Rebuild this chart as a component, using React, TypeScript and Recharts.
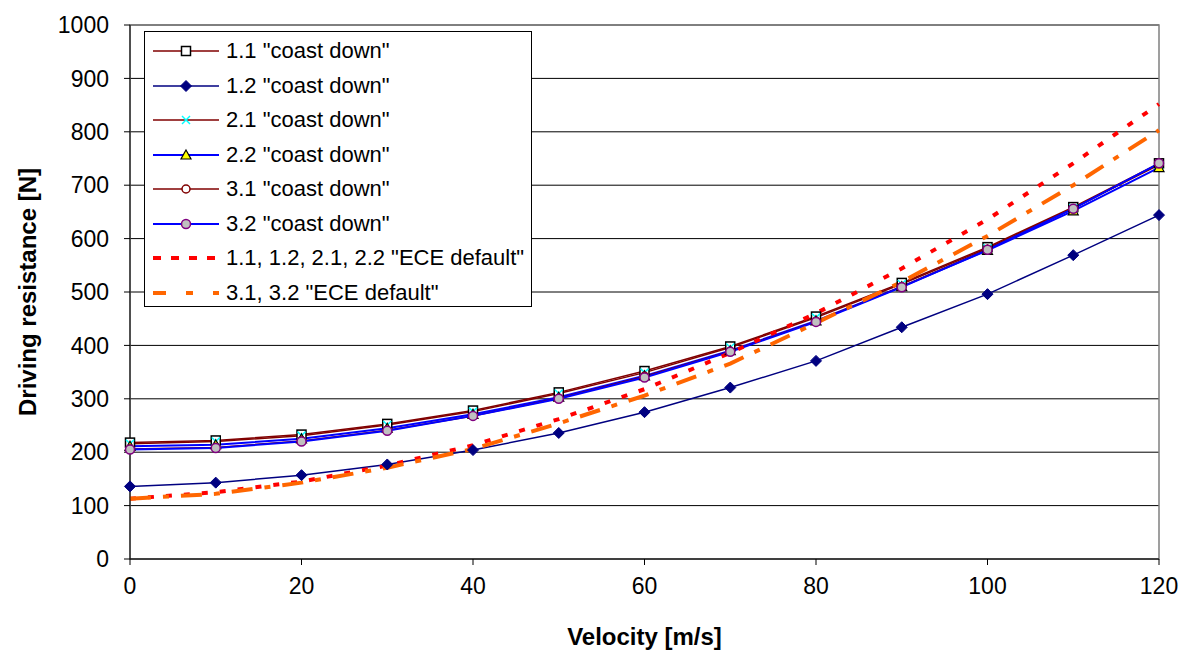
import React from 'react';
import { LineChart, Line, XAxis, YAxis, CartesianGrid, Legend, ReferenceArea } from 'recharts';

const velocities = [0, 10, 20, 30, 40, 50, 60, 70, 80, 90, 100, 110, 120];
const cd11 = [218, 222, 233, 253, 278, 312, 352, 398, 454, 517, 584, 659, 741];
const cd12 = [136, 143, 157, 177, 204, 236, 275, 321, 371, 434, 496, 569, 644];
const cd21 = [216, 220, 231, 251, 276, 310, 349, 396, 452, 515, 582, 657, 738];
const cd22 = [211, 214, 225, 245, 271, 303, 343, 390, 446, 510, 578, 652, 733];
const cd31 = [206, 209, 221, 241, 268, 301, 342, 389, 445, 510, 580, 656, 740];
const cd32 = [205, 208, 220, 240, 268, 300, 340, 388, 444, 509, 579, 656, 741];
const eceA = [113, 125, 145, 175, 213, 262, 318, 386, 460, 544, 636, 741, 852];
const eceB = [113, 122, 143, 171, 206, 254, 306, 366, 442, 519, 605, 700, 803];
const yTicks = [0, 100, 200, 300, 400, 500, 600, 700, 800, 900, 1000];
const xTicks = [0, 20, 40, 60, 80, 100, 120];

const data = velocities.map((v, i) => ({
  v,
  s11: cd11[i], s12: cd12[i], s21: cd21[i], s22: cd22[i], s31: cd31[i], s32: cd32[i],
  e1: eceA[i], e2: eceB[i],
}));

const FONT = '"Liberation Sans", Arial, sans-serif';

type MK = 'square' | 'diamond' | 'x' | 'triangle' | 'circleW' | 'circleG' | 'none';

const marker = (kind: MK, cx: number, cy: number, key?: any) => {
  switch (kind) {
    case 'square':
      return <rect key={key} x={cx - 4.5} y={cy - 4.5} width={9} height={9} fill="#fff" stroke="#000" strokeWidth={1.5} />;
    case 'diamond':
      return <polygon key={key} points={`${cx},${cy - 5.5} ${cx + 5.5},${cy} ${cx},${cy + 5.5} ${cx - 5.5},${cy}`} fill="#000080" stroke="#000080" />;
    case 'x':
      return (
        <g key={key}>
          <line x1={cx - 4} y1={cy - 4} x2={cx + 4} y2={cy + 4} stroke="#00FFFF" strokeWidth={1.5} />
          <line x1={cx - 4} y1={cy + 4} x2={cx + 4} y2={cy - 4} stroke="#00FFFF" strokeWidth={1.5} />
        </g>
      );
    case 'triangle':
      return <polygon key={key} points={`${cx},${cy - 5} ${cx + 5},${cy + 4} ${cx - 5},${cy + 4}`} fill="#FFFF00" stroke="#000" strokeWidth={1.2} />;
    case 'circleW':
      return <circle key={key} cx={cx} cy={cy} r={4} fill="#fff" stroke="#800000" strokeWidth={1.5} />;
    case 'circleG':
      return <circle key={key} cx={cx} cy={cy} r={4.5} fill="#C0C0C0" stroke="#800080" strokeWidth={1.5} />;
    default:
      return null;
  }
};

const seriesCfg: { key: string; name: string; color: string; width: number; mk: MK; dash?: string }[] = [
  { key: 's11', name: '1.1 "coast down"', color: '#800000', width: 1.5, mk: 'square' },
  { key: 's12', name: '1.2 "coast down"', color: '#000080', width: 1.5, mk: 'diamond' },
  { key: 's21', name: '2.1 "coast down"', color: '#800000', width: 1.5, mk: 'x' },
  { key: 's22', name: '2.2 "coast down"', color: '#0000FF', width: 2, mk: 'triangle' },
  { key: 's31', name: '3.1 "coast down"', color: '#800000', width: 1.5, mk: 'circleW' },
  { key: 's32', name: '3.2 "coast down"', color: '#0000FF', width: 2, mk: 'circleG' },
  { key: 'e1', name: '1.1, 1.2, 2.1, 2.2 "ECE default"', color: '#FF0000', width: 4, mk: 'none', dash: '6 12' },
  { key: 'e2', name: '3.1, 3.2 "ECE default"', color: '#FF6600', width: 4, mk: 'none', dash: '21 12 6 12' },
];

const LegendBox = () => (
  <div
    style={{
      width: 388,
      height: 276,
      border: '1px solid #000',
      background: '#fff',
      boxSizing: 'border-box',
      paddingTop: 2,
      fontFamily: FONT,
    }}
  >
    {seriesCfg.map((s) => (
      <div key={s.key} style={{ display: 'flex', alignItems: 'center', height: 34.5 }}>
        <svg width={76} height={20} style={{ marginLeft: 7, flex: 'none' }}>
          {s.dash ? (
            <line x1={1} y1={10} x2={67} y2={10} stroke={s.color} strokeWidth={4} strokeDasharray={s.key === 'e1' ? '8 10' : '13 20 7 20'} />
          ) : (
            <line x1={1} y1={10} x2={67} y2={10} stroke={s.color} strokeWidth={s.width} />
          )}
          {marker(s.mk, 34, 10)}
        </svg>
        <span style={{ fontSize: 22, color: '#000', whiteSpace: 'nowrap', marginLeft: -2 }}>{s.name}</span>
      </div>
    ))}
  </div>
);

const YTitle = (props: any) => {
  const vb = props.viewBox || {};
  const x = (vb.x ?? 0) + 27;
  const y = (vb.y ?? 0) + (vb.height ?? 0) / 2;
  return (
    <text x={x} y={y} transform={`rotate(-90 ${x} ${y})`} textAnchor="middle" dominantBaseline="central"
      fontFamily={FONT} fontWeight="bold" fontSize={24} fill="#000">
      Driving resistance [N]
    </text>
  );
};

const XTitle = (props: any) => {
  const vb = props.viewBox || {};
  const x = (vb.x ?? 0) + (vb.width ?? 0) / 2;
  const y = (vb.y ?? 0) + 77;
  return (
    <text x={x} y={y} textAnchor="middle" dominantBaseline="central"
      fontFamily={FONT} fontWeight="bold" fontSize={24} fill="#000">
      Velocity [m/s]
    </text>
  );
};

export default function App() {
  return (
    <div style={{ position: 'absolute', left: 0, top: 0, width: 1188, height: 651, background: '#fff' }}>
      <LineChart width={1188} height={651} data={data} margin={{ top: 25, right: 29, left: 0, bottom: 0 }}>
        <CartesianGrid horizontal vertical={false} stroke="#000" strokeWidth={1} />
        <ReferenceArea x1={0} x2={120} y1={0} y2={1000} fill="none" stroke="#808080" strokeWidth={1.5} ifOverflow="visible" />
        <XAxis
          dataKey="v"
          type="number"
          domain={[0, 120]}
          ticks={xTicks}
          height={92}
          tickSize={6}
          tickMargin={13}
          axisLine={{ stroke: '#000' }}
          tickLine={{ stroke: '#000' }}
          tick={{ fontSize: 23, fill: '#000', fontFamily: FONT }}
          label={<XTitle />}
        />
        <YAxis
          type="number"
          domain={[0, 1000]}
          ticks={yTicks}
          width={130}
          tickSize={6}
          tickMargin={15}
          axisLine={{ stroke: '#000' }}
          tickLine={{ stroke: '#000' }}
          tick={{ fontSize: 23, fill: '#000', fontFamily: FONT }}
          label={<YTitle />}
        />
        <Legend
          layout="vertical"
          align="center"
          verticalAlign="middle"
          content={<LegendBox />}
          wrapperStyle={{ position: 'absolute', left: 144, top: 31, width: 'auto', height: 'auto' }}
        />
        {seriesCfg.map((s) => (
          <Line
            key={s.key}
            dataKey={s.key}
            name={s.name}
            type="linear"
            stroke={s.color}
            strokeWidth={s.width}
            strokeDasharray={s.dash}
            isAnimationActive={false}
            activeDot={false}
            dot={
              s.mk === 'none'
                ? false
                : (p: any) => marker(s.mk, p.cx, p.cy, `${s.key}-${p.index}`)
            }
          />
        ))}
      </LineChart>
    </div>
  );
}
